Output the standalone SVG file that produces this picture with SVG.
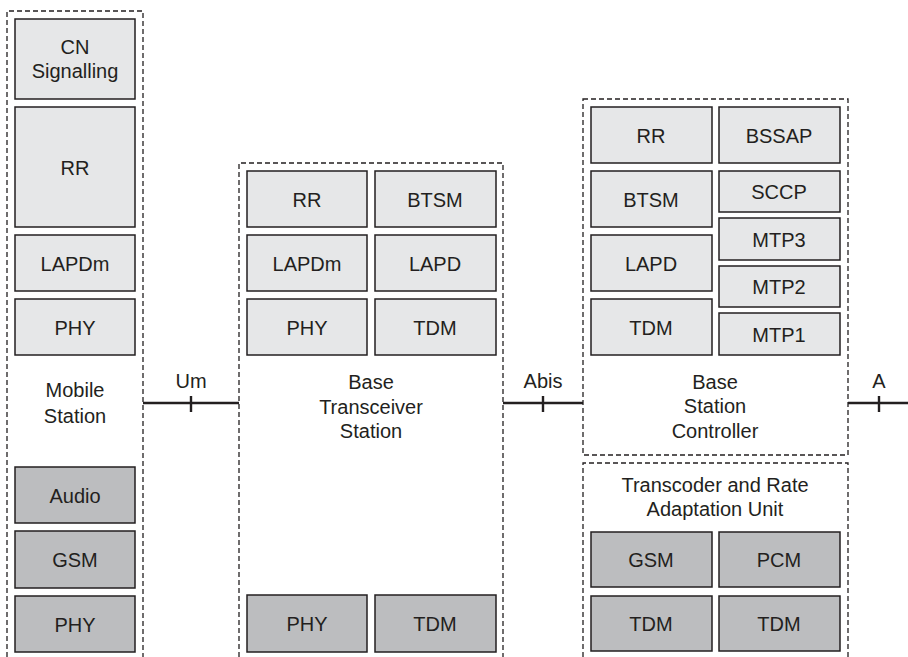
<svg xmlns="http://www.w3.org/2000/svg" width="908" height="657" viewBox="0 0 908 657">
<style>
.frame{fill:none;stroke:#231f20;stroke-width:1.3;stroke-dasharray:5 3}
.lt{fill:#e6e7e8;stroke:#231f20;stroke-width:1.5}
.dk{fill:#bcbdbf;stroke:#231f20;stroke-width:1.5}
text{font-family:"Liberation Sans",Arial,sans-serif;font-size:20px;fill:#231f20;text-anchor:middle}
.link{stroke:#231f20;stroke-width:2.4;fill:none}
</style>
<rect width="908" height="657" fill="#fff"/>

<g id="ms">
<path class="frame" d="M7,657 V11 H143 V657"/>
<rect class="lt" x="15" y="19" width="120" height="80"/><text x="75" y="54">CN</text><text x="75" y="78">Signalling</text>
<rect class="lt" x="15" y="107" width="120" height="120"/><text x="75" y="174.5">RR</text>
<rect class="lt" x="15" y="235" width="120" height="56"/><text x="75" y="270.5">LAPDm</text>
<rect class="lt" x="15" y="299" width="120" height="56"/><text x="75" y="334.5">PHY</text>
<text x="75" y="397">Mobile</text><text x="75" y="422.5">Station</text>
<rect class="dk" x="15" y="467" width="120" height="56"/><text x="75" y="502.5">Audio</text>
<rect class="dk" x="15" y="531" width="120" height="57"/><text x="75" y="567">GSM</text>
<rect class="dk" x="15" y="596" width="120" height="56"/><text x="75" y="631.5">PHY</text>
</g>

<g id="bts">
<path class="frame" d="M239,657 V163 H503 V657"/>
<rect class="lt" x="247" y="171" width="120" height="56"/><text x="307" y="206.5">RR</text>
<rect class="lt" x="375" y="171" width="121" height="56"/><text x="435" y="206.5">BTSM</text>
<rect class="lt" x="247" y="235" width="120" height="56"/><text x="307" y="270.5">LAPDm</text>
<rect class="lt" x="375" y="235" width="121" height="56"/><text x="435" y="270.5">LAPD</text>
<rect class="lt" x="247" y="299" width="120" height="56"/><text x="307" y="334.5">PHY</text>
<rect class="lt" x="375" y="299" width="121" height="56"/><text x="435" y="334.5">TDM</text>
<text x="371" y="389">Base</text><text x="371" y="413.5">Transceiver</text><text x="371" y="438">Station</text>
<rect class="dk" x="247" y="595" width="120" height="57"/><text x="307" y="631">PHY</text>
<rect class="dk" x="375" y="595" width="121" height="57"/><text x="435" y="631">TDM</text>
</g>

<g id="bsc">
<rect class="frame" x="583" y="99" width="265" height="356"/>
<rect class="lt" x="591" y="107" width="121" height="56"/><text x="651" y="142.5">RR</text>
<rect class="lt" x="719" y="107" width="121" height="56"/><text x="779" y="142.5">BSSAP</text>
<rect class="lt" x="591" y="171" width="121" height="56"/><text x="651" y="206.5">BTSM</text>
<rect class="lt" x="591" y="235" width="121" height="56"/><text x="651" y="270.5">LAPD</text>
<rect class="lt" x="591" y="299" width="121" height="56"/><text x="651" y="334.5">TDM</text>
<rect class="lt" x="719" y="171" width="121" height="41"/><text x="779" y="199">SCCP</text>
<rect class="lt" x="719" y="218" width="121" height="42"/><text x="779" y="246.5">MTP3</text>
<rect class="lt" x="719" y="266" width="121" height="41"/><text x="779" y="294">MTP2</text>
<rect class="lt" x="719" y="313" width="121" height="42"/><text x="779" y="341.5">MTP1</text>
<text x="715" y="388.5">Base</text><text x="715" y="413">Station</text><text x="715" y="438">Controller</text>
</g>

<g id="trau">
<path class="frame" d="M583,657 V463 H848 V657"/>
<text x="715" y="492">Transcoder and Rate</text><text x="715" y="516">Adaptation Unit</text>
<rect class="dk" x="591" y="532" width="121" height="55"/><text x="651" y="567">GSM</text>
<rect class="dk" x="719" y="532" width="121" height="55"/><text x="779" y="567">PCM</text>
<rect class="dk" x="591" y="596" width="121" height="55"/><text x="651" y="631">TDM</text>
<rect class="dk" x="719" y="596" width="121" height="55"/><text x="779" y="631">TDM</text>
</g>

<g id="connectors">
<path class="link" d="M143,403 H239 M191,396 V412"/><text x="191" y="388">Um</text>
<path class="link" d="M503,403 H583 M543,396 V412"/><text x="543" y="388">Abis</text>
<path class="link" d="M848,403 H908 M879,396 V412"/><text x="879" y="388">A</text>
</g>
</svg>
